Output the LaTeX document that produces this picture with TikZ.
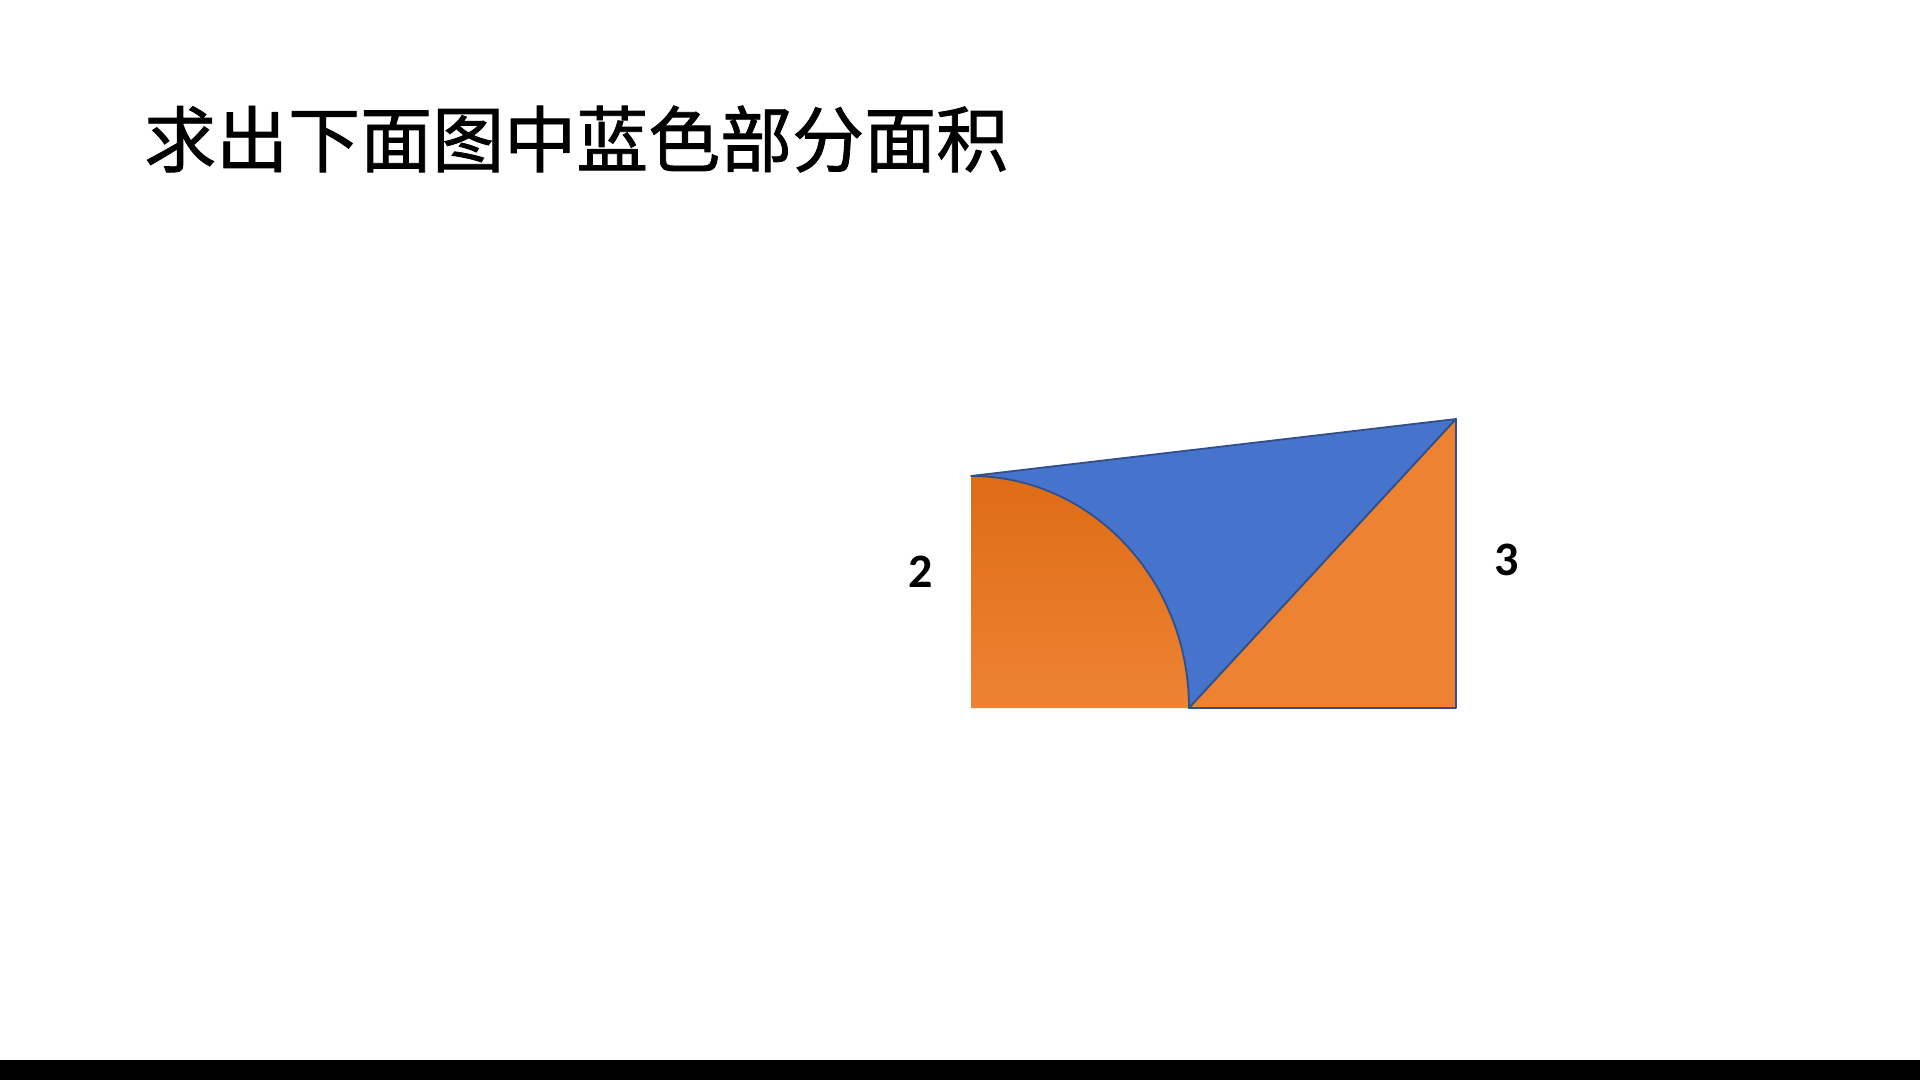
\documentclass[tikz,border=0pt]{standalone}
\usepackage{fontspec}
\newfontfamily\cjk[FakeBold=1.2]{Noto Sans CJK SC}
\newfontfamily\lab{Carlito}
\definecolor{blueF}{RGB}{70,116,204}
\definecolor{orF}{RGB}{237,131,50}
\definecolor{orTop}{RGB}{223,108,22}
\definecolor{edgeC}{RGB}{50,80,135}
\tikzset{
  edgeline/.style={draw=edgeC, line width=1.8pt, line join=round},
  numlabel/.style={inner sep=0pt, font=\lab\bfseries\fontsize{48}{50}\selectfont},
  titletext/.style={inner sep=0pt, anchor=west, font=\cjk\fontsize{72}{80}\selectfont}
}
\begin{document}
\begin{tikzpicture}[x=1pt,y=-1pt]
\useasboundingbox (0,0) rectangle (1920,1080);
\fill[white] (0,0) rectangle (1920,1060);
\fill[black] (0,1060) rectangle (1920,1080);
\node[titletext] (title) at (144,139) {求出下面图中蓝色部分面积};
\coordinate (TL) at (971,476);
\coordinate (TR) at (1456,419);
\coordinate (BM) at (1189,708);
\coordinate (BL) at (971,708);
\coordinate (BR) at (1456,708);
% left quarter disc
\path[top color=orTop, bottom color=orF] (BL) -- (TL) arc[start angle=-90, end angle=0, x radius=218, y radius=232] -- cycle;
% blue region
\filldraw[fill=blueF, edgeline] (TL) -- (TR) -- (BM) arc[start angle=0, end angle=-90, x radius=218, y radius=232] -- cycle;
% right triangle
\filldraw[fill=orF, edgeline] (BM) -- (TR) -- (BR) -- cycle;
\node[numlabel] (two) at (921,572) {2};
\node[numlabel] (three) at (1507,560) {3};
\end{tikzpicture}
\end{document}
